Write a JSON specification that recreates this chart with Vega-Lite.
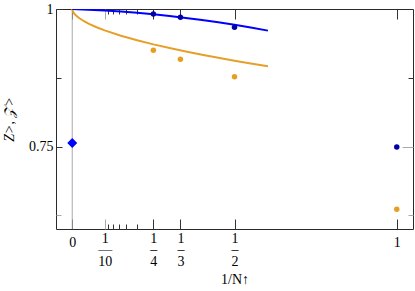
{
  "$schema": "https://vega.github.io/schema/vega-lite/v6.json",
  "width": 357,
  "height": 220,
  "autosize": {"type": "none"},
  "padding": {"left": 56, "top": 9, "right": 2, "bottom": 62},
  "background": "white",
  "config": {
    "view": {"stroke": "#2a2a2a", "strokeWidth": 1},
    "font": "Liberation Serif"
  },
  "datasets": {
    "lines": [
      {"series": "blue", "x": 0, "y": 1.0},
      {"series": "blue", "x": 0.05, "y": 0.9988},
      {"series": "blue", "x": 0.1, "y": 0.9972},
      {"series": "blue", "x": 0.15, "y": 0.9953},
      {"series": "blue", "x": 0.2, "y": 0.993},
      {"series": "blue", "x": 0.25, "y": 0.9903},
      {"series": "blue", "x": 0.3, "y": 0.9873},
      {"series": "blue", "x": 0.35, "y": 0.9838},
      {"series": "blue", "x": 0.4, "y": 0.98},
      {"series": "blue", "x": 0.45, "y": 0.9758},
      {"series": "blue", "x": 0.5, "y": 0.9713},
      {"series": "blue", "x": 0.55, "y": 0.9663},
      {"series": "blue", "x": 0.603, "y": 0.9607},
      {"series": "orange", "x": 0, "y": 1.0},
      {"series": "orange", "x": 0.002, "y": 0.9958},
      {"series": "orange", "x": 0.005, "y": 0.9925},
      {"series": "orange", "x": 0.01, "y": 0.9891},
      {"series": "orange", "x": 0.02, "y": 0.984},
      {"series": "orange", "x": 0.035, "y": 0.9782},
      {"series": "orange", "x": 0.05, "y": 0.9735},
      {"series": "orange", "x": 0.075, "y": 0.9669},
      {"series": "orange", "x": 0.1, "y": 0.9612},
      {"series": "orange", "x": 0.15, "y": 0.9515},
      {"series": "orange", "x": 0.2, "y": 0.9432},
      {"series": "orange", "x": 0.25, "y": 0.9357},
      {"series": "orange", "x": 0.3, "y": 0.929},
      {"series": "orange", "x": 0.35, "y": 0.9227},
      {"series": "orange", "x": 0.4, "y": 0.9168},
      {"series": "orange", "x": 0.45, "y": 0.9112},
      {"series": "orange", "x": 0.5, "y": 0.9059},
      {"series": "orange", "x": 0.55, "y": 0.9009},
      {"series": "orange", "x": 0.603, "y": 0.896}
    ],
    "points": [
      {"series": "orange", "x": 0.25, "y": 0.925},
      {"series": "orange", "x": 0.3333333, "y": 0.9085},
      {"series": "orange", "x": 0.5, "y": 0.877},
      {"series": "orange", "x": 1, "y": 0.636},
      {"series": "navy", "x": 0.25, "y": 0.991},
      {"series": "navy", "x": 0.3333333, "y": 0.985},
      {"series": "navy", "x": 0.5, "y": 0.967},
      {"series": "navy", "x": 1, "y": 0.749}
    ],
    "diamond": [
      {"x": 0, "y": 0.7565}
    ],
    "zero": [
      {"x": 0}
    ]
  },
  "layer": [
    {
      "data": {"name": "zero"},
      "mark": {"type": "rule", "color": "#a8a8a8", "strokeWidth": 1},
      "encoding": {
        "x": {"field": "x", "type": "quantitative", "axis": null}
      }
    },
    {
      "data": {"name": "lines"},
      "transform": [{"filter": "datum.series == 'orange'"}],
      "mark": {"type": "line", "color": "#e69f2a", "strokeWidth": 2, "clip": true},
      "encoding": {
        "x": {
          "field": "x", "type": "quantitative",
          "scale": {"domain": [-0.05, 1.05], "nice": false, "zero": false},
          "axis": {
            "orient": "bottom",
            "values": [0, 0.1, 0.1111111, 0.125, 0.1428571, 0.1666667, 0.2, 0.25, 0.3333333, 0.5, 1],
            "domain": false,
            "grid": false,
            "tickSize": {"condition": {"test": "datum.value > 0.105 && datum.value < 0.245", "value": -5}, "value": -10},
            "tickColor": {"condition": {"test": "abs(datum.value - 0.1) < 0.001", "value": "#aaaaaa"}, "value": "#333333"},
            "tickWidth": 1,
            "labelExpr": "datum.value == 0 ? '0' : datum.value == 1 ? '1' : abs(datum.value - 0.1) < 0.001 ? ['1', '—', '10'] : abs(datum.value - 0.25) < 0.001 ? ['1', '–', '4'] : abs(datum.value - 0.3333333) < 0.001 ? ['1', '–', '3'] : abs(datum.value - 0.5) < 0.001 ? ['1', '–', '2'] : ''",
            "labelPadding": {"condition": {"test": "datum.value == 0 || datum.value == 1", "value": 16}, "value": 12},
            "labelFont": "Liberation Serif",
            "labelFontSize": 14,
            "labelColor": "#000000",
            "labelLineHeight": 11.5,
            "labelBaseline": "top",
            "labelOverlap": false,
            "labelFlush": false,
            "labelBound": false,
            "title": "1/N↑",
            "titleFont": "Liberation Serif",
            "titleFontSize": 14,
            "titleFontWeight": "normal",
            "titleColor": "#000000",
            "titlePadding": 4
          }
        },
        "y": {
          "field": "y", "type": "quantitative",
          "scale": {"domain": [0.6, 1.0], "nice": false, "zero": false},
          "axis": {
            "orient": "left",
            "values": [0.625, 0.75, 0.875, 1],
            "domain": false,
            "grid": false,
            "tickSize": {"condition": {"test": "datum.value == 0.625 || datum.value == 0.875", "value": -5}, "value": -6},
            "tickColor": {"condition": {"test": "datum.value == 0.625", "value": "#aaaaaa"}, "value": "#333333"},
            "labelExpr": "datum.value == 1 ? '1' : datum.value == 0.75 ? '0.75' : ''",
            "labelPadding": 9,
            "labelFont": "Liberation Serif",
            "labelFontSize": 14,
            "labelColor": "#000000",
            "labelOverlap": false,
            "labelFlush": false,
            "labelBound": false,
            "title": "Z>, 𝒵>",
            "titleFont": "Liberation Serif",
            "titleFontSize": 14,
            "titleFontWeight": "normal",
            "titleFontStyle": "italic",
            "titleColor": "#000000",
            "titlePadding": 12
          }
        }
      }
    },
    {
      "data": {"name": "lines"},
      "transform": [{"filter": "datum.series == 'blue'"}],
      "mark": {"type": "line", "color": "#0000ff", "strokeWidth": 2, "clip": true},
      "encoding": {
        "x": {
          "field": "x", "type": "quantitative",
          "axis": {
            "orient": "top",
            "values": [0, 0.1, 0.1111111, 0.125, 0.1428571, 0.1666667, 0.2, 0.25, 0.3333333, 0.5, 1],
            "domain": false,
            "grid": false,
            "labels": false,
            "title": null,
            "tickSize": {"condition": {"test": "datum.value > 0.105 && datum.value < 0.245", "value": -5}, "value": -10},
            "tickColor": {"condition": {"test": "abs(datum.value - 0.1) < 0.001", "value": "#aaaaaa"}, "value": "#333333"}
          }
        },
        "y": {
          "field": "y", "type": "quantitative",
          "axis": {
            "orient": "right",
            "values": [0.625, 0.75, 0.875],
            "domain": false,
            "grid": false,
            "labels": false,
            "title": null,
            "tickSize": {"condition": {"test": "datum.value == 0.75", "value": -11}, "value": -5},
            "tickColor": {"condition": {"test": "datum.value == 0.875", "value": "#333333"}, "value": "#aaaaaa"}
          }
        }
      }
    },
    {
      "data": {"name": "points"},
      "mark": {"type": "circle", "size": 30, "opacity": 1},
      "encoding": {
        "x": {"field": "x", "type": "quantitative", "axis": null},
        "y": {"field": "y", "type": "quantitative", "axis": null},
        "color": {
          "field": "series", "type": "nominal",
          "scale": {"domain": ["orange", "navy"], "range": ["#e69f22", "#0000a8"]},
          "legend": null
        }
      }
    },
    {
      "data": {"name": "diamond"},
      "mark": {"type": "point", "shape": "diamond", "size": 100, "filled": true, "color": "#0000ff", "opacity": 1},
      "encoding": {
        "x": {"field": "x", "type": "quantitative", "axis": null},
        "y": {"field": "y", "type": "quantitative", "axis": null}
      }
    }
  ],
  "resolve": {"axis": {"x": "independent", "y": "independent"}}
}
